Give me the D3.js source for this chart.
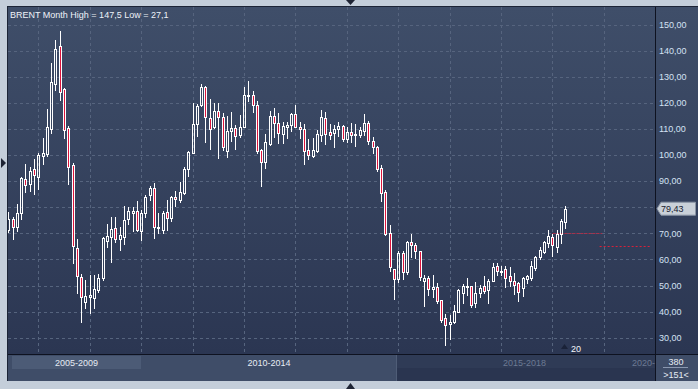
<!DOCTYPE html>
<html><head><meta charset="utf-8">
<script src="https://cdn.jsdelivr.net/npm/d3@7"></script>
<style>html,body{margin:0;padding:0;background:#c4ceda;}svg{display:block;font-family:"Liberation Sans",Arial,sans-serif;}</style>
</head><body>
<svg id="c" width="698" height="389"></svg>
<script>
// ---- data (monthly candles, Jul 2007 .. May 2018) ----
const months = ["2007-07","2007-08","2007-09","2007-10","2007-11","2007-12",
"2008-01","2008-02","2008-03","2008-04","2008-05","2008-06","2008-07","2008-08","2008-09","2008-10","2008-11","2008-12",
"2009-01","2009-02","2009-03","2009-04","2009-05","2009-06","2009-07","2009-08","2009-09","2009-10","2009-11","2009-12",
"2010-01","2010-02","2010-03","2010-04","2010-05","2010-06","2010-07","2010-08","2010-09","2010-10","2010-11","2010-12",
"2011-01","2011-02","2011-03","2011-04","2011-05","2011-06","2011-07","2011-08","2011-09","2011-10","2011-11","2011-12",
"2012-01","2012-02","2012-03","2012-04","2012-05","2012-06","2012-07","2012-08","2012-09","2012-10","2012-11","2012-12",
"2013-01","2013-02","2013-03","2013-04","2013-05","2013-06","2013-07","2013-08","2013-09","2013-10","2013-11","2013-12",
"2014-01","2014-02","2014-03","2014-04","2014-05","2014-06","2014-07","2014-08","2014-09","2014-10","2014-11","2014-12",
"2015-01","2015-02","2015-03","2015-04","2015-05","2015-06","2015-07","2015-08","2015-09","2015-10","2015-11","2015-12",
"2016-01","2016-02","2016-03","2016-04","2016-05","2016-06","2016-07","2016-08","2016-09","2016-10","2016-11","2016-12",
"2017-01","2017-02","2017-03","2017-04","2017-05","2017-06","2017-07","2017-08","2017-09","2017-10","2017-11","2017-12",
"2018-01","2018-02","2018-03","2018-04","2018-05"];
const open = [71.3,75.5,72.5,77.7,90.8,88.8,
94.5,91.5,99.8,100.4,110,127.1,141.8,125.2,110.2,96.3,64.4,53.1,
43.8,45.6,45.3,48.3,52.8,67.2,68.7,71.9,67.9,68.5,75.4,77.9,
78.4,71,77.9,84.6,87.2,72,71.3,78.1,76,83.8,82.8,85.4,
94.5,100.9,111.9,119.2,125.9,114,110.6,116.7,114.4,101.7,109.1,110.2,
107.5,110.8,122.5,122.9,119.2,101.9,97.4,104.2,115,112.1,108,110.8,
111.4,115.7,110.8,109.8,101.9,99.7,101.7,107.7,114,108.8,108.5,109.8,
111.1,106.1,108.8,107.7,107.8,109.3,112.1,105.5,103,94.9,85.7,70,
56.2,52.6,62.4,55,66.8,65.4,63.1,51.8,53,48.5,49.5,44.4,
37.4,35.1,36,39.8,47,49.4,49.8,43.4,47,49.8,48.3,51.7,
57.5,55.2,56.2,53.6,51.8,51.1,49.2,52.6,52.8,56.8,61.1,63,
66.2,68.5,64.9,69.7,74.4];
const high = [78,76.2,81.2,91.7,96.4,95.5,
98.5,100.9,106.5,117.6,135.4,144.1,147.5,125.8,111,97,67.8,54.5,
52.1,54.1,54.1,54.4,68.5,73.6,76.1,76.4,72.5,80.5,80.2,80.2,
82.4,78.9,84.6,88.1,89.4,77.9,78.7,82.9,84.4,86.3,89.5,95.5,
101.6,119.8,119.5,127.2,126.5,121.3,119.8,119.8,116.2,115,116.3,111.5,
115.3,125.9,128.5,124.6,120.6,102.2,108,116.9,118,116.2,112.8,112.8,
116.2,119.2,112.5,111.9,106.1,106.4,109.6,117.2,116.4,111.9,111.5,112.8,
111.5,110.6,112.1,111.8,110.8,115.7,113.1,106.8,103.4,96.2,86.6,73.2,
56.5,63.2,63.3,67,69.6,66.4,63.4,54,53.6,54,50.8,44.6,
39.1,38.7,42.5,48.7,50.6,52.8,50,51.3,50.2,53.6,52.4,58.5,
58.7,57.4,57.4,57,54.9,51.2,53.3,54,59.4,61.4,64.6,67,
71.3,69.7,71.3,75.5,80.5];
const low = [70.5,68,71,75.6,86,86.3,
85,86.9,96.5,99.5,108.5,124.9,121.1,106.5,88.8,58.7,47,36.1,
41.3,39.3,41.3,47.6,52,64.9,59.1,66.5,63.5,65.9,73.6,71,
71,67.4,76.1,82.9,68.1,70,70.2,71.3,74.8,80.5,82.1,85,
92,100.6,107.3,118.8,105.1,102.2,110.2,98.7,101.9,99.1,105.5,102.2,
107,110.6,120.8,116.6,100.9,88.1,95.2,103.8,107,104.7,104.7,106.4,
109.3,110.6,106.6,96.6,98.3,99.1,101.3,105.5,104.2,106,103,107.3,
105.5,105.1,105.1,103.6,106.8,107.7,104.2,100.9,94,82.5,69.3,55.7,
44.7,51.5,52.4,54.3,60.8,60.4,52.1,42,46.4,45.7,43.2,36.1,
27.2,29.5,35.7,39.7,43.2,46.4,41.6,41.6,45.7,47.2,43.2,51.6,
54,54,49.5,49.8,46.6,44.2,46,51,52.1,55.9,60,62.5,
64.9,61.4,63,66.4,72];
const close = [75.5,72.4,77.7,91,88.4,93.8,
92.2,100,100.7,110.6,127.9,140.5,124.1,109.6,95.4,65.3,53.6,45.5,
46.1,46.4,48.5,53,68.1,69,71.6,67.7,69.3,75.1,78.4,78.4,
71.3,77.7,83.8,87.2,72.5,72.5,77.9,76,83.8,83,85.8,94.6,
101,111.8,118.8,125.9,114.4,109.8,116.7,114.4,103,109.1,110.2,107.3,
110.8,123,123,119.2,101.7,97.4,104.9,115,112.1,108.3,111.1,111.4,
115.6,110.8,109.8,101.7,99.9,101.9,108,114.4,107.9,107.8,109.8,111.1,
106.1,108.8,107.7,108.2,109.6,112.1,105.5,103,94.8,85.6,69.7,57.2,
52.6,62.6,55,66.8,65.4,63.1,53.1,53,48.5,49.5,44.2,36.8,
34.7,36,40.1,48.3,49.8,50,42.4,47,49.2,48,51.8,57,
55.6,55.7,52.8,51.9,50.1,47.6,52.8,53.5,57.3,61.1,63.6,66.8,
68.8,65.5,69.7,74.7,79.43];
const yTicks = [30,40,50,60,70,80,90,100,110,120,130,140,150];
const periodLabels = ["2005-2009","2010-2014","2015-2018","2020-"];
const title = "BRENT Month High = 147,5 Low = 27,1";
const lastPrice = 79.43;
const refLevels = [{value:70, from:127, to:138.6}, {value:65, from:138, to:149.8}];
const counterTop = "380", counterBottom = ">151<", cursorLabel = "20";

// ---- layout ----
const svg = d3.select("#c");
const P = {l:8, r:655, t:7, b:354};
const x = d3.scaleLinear().domain([0, months.length-1]).range([8.3, 565.35]);
const y = d3.scaleLinear().domain([30,150]).range([337.7, 24.5]);

const defs = svg.append("defs");
const g1 = defs.append("linearGradient").attr("id","bg").attr("x1",0).attr("y1",0).attr("x2",0).attr("y2",1);
g1.append("stop").attr("offset","0%").attr("stop-color","#3f4e69");
g1.append("stop").attr("offset","100%").attr("stop-color","#2b3652");
defs.append("clipPath").attr("id","clip").append("rect").attr("x",P.l).attr("y",P.t).attr("width",P.r-P.l).attr("height",P.b-P.t);

// outer frame
svg.append("rect").attr("width",698).attr("height",389).attr("fill","#c4ceda");
svg.append("rect").attr("x",7).attr("y",6).attr("width",691).attr("height",375).attr("fill","#1c2436");
svg.append("rect").attr("x",P.l).attr("y",P.t).attr("width",698-P.l).attr("height",P.b-P.t).attr("fill","url(#bg)");

// frame triangles
svg.append("path").attr("d","M346,0 L355,0 L350.5,5 Z").attr("fill","#1e2434");
svg.append("path").attr("d","M346,389 L355,389 L350.5,383 Z").attr("fill","#1e2434");
svg.append("path").attr("d","M1,158 L6,163 L1,168 Z").attr("fill","#1e2434");

const plot = svg.append("g").attr("clip-path","url(#clip)");

// grid
plot.selectAll("line.hg").data(yTicks).join("line")
  .attr("x1",P.l).attr("x2",P.r).attr("y1",d=>Math.round(y(d))+0.5).attr("y2",d=>Math.round(y(d))+0.5)
  .attr("stroke","#56647e").attr("stroke-dasharray","3,3");
const vgrid = d3.range(7, 150, 12);
plot.selectAll("line.vg").data(vgrid).join("line")
  .attr("x1",d=>Math.round(x(d))+0.5).attr("x2",d=>Math.round(x(d))+0.5).attr("y1",P.t).attr("y2",P.b)
  .attr("stroke","#56647e").attr("stroke-dasharray","3,3");

// reference levels
const refColors = ["#a8304a","#d8203a"];
refLevels.forEach((r,k)=>{
  plot.append("line").attr("x1",x(r.from)).attr("x2",x(r.to))
    .attr("y1",Math.round(y(r.value))+0.5).attr("y2",Math.round(y(r.value))+0.5)
    .attr("stroke",refColors[k]).attr("stroke-dasharray",k===0?"3,1":"2,2");
});

// candles
const data = months.map((m,i)=>({i, o:open[i], h:high[i], l:low[i], c:close[i]}));
const cg = plot.selectAll("g.candle").data(data).join("g");
cg.each(function(d){
  const g = d3.select(this);
  const cx = Math.round(x(d.i));
  const top = Math.max(d.o,d.c), bot = Math.min(d.o,d.c);
  const yt = Math.round(y(top))+0.5, yb = Math.round(y(bot))+0.5;
  g.append("line").attr("x1",cx+0.5).attr("x2",cx+0.5).attr("y1",Math.round(y(d.h))).attr("y2",yt).attr("stroke","#ffffff");
  g.append("line").attr("x1",cx+0.5).attr("x2",cx+0.5).attr("y1",yb).attr("y2",Math.round(y(d.l))+1).attr("stroke","#ffffff");
  g.append("rect").attr("x",cx-0.5).attr("y",yt).attr("width",2).attr("height",Math.max(yb-yt,1))
    .attr("fill", d.c<d.o ? "#dc143c" : "none").attr("stroke","#ffffff").attr("stroke-width",1);
});

// title
svg.append("text").attr("x",10).attr("y",18.3).attr("fill","#eef2f8").attr("font-size",9).text(title);

// right axis (label under the last-price tag is hidden, as in the original)
svg.append("line").attr("x1",655.5).attr("x2",655.5).attr("y1",P.t).attr("y2",381).attr("stroke","#0e1220");
const ly = y(lastPrice);
const axisTicks = yTicks.filter(v => Math.abs(y(v) - ly) > 9);
const axis = d3.axisRight(y).tickValues(axisTicks).tickSize(0).tickPadding(0)
  .tickFormat(d=>d.toFixed(2).replace(".",","));
const ag = svg.append("g").attr("transform","translate(659,0)").call(axis);
ag.select(".domain").remove();
ag.selectAll("text").attr("fill","#d4e2f4").attr("font-size",9).attr("font-family","Liberation Sans, Arial, sans-serif");

// last price tag
svg.append("path").attr("d",`M657,${ly} L661,${ly-6.5} L695.5,${ly-6.5} L695.5,${ly+6.5} L661,${ly+6.5} Z`)
  .attr("fill","#c9d0d8").attr("stroke","#8a94a4");
svg.append("text").attr("x",661).attr("y",ly+3.3).attr("fill","#18202e").attr("font-size",9)
  .text(lastPrice.toFixed(2).replace(".",","));

// cursor label
svg.append("path").attr("d",`M561,349 L568,349 L564.5,344 Z`).attr("fill","#1a2238");
svg.append("text").attr("x",571).attr("y",352).attr("fill","#f4f6fa").attr("font-size",9).text(cursorLabel);

// bottom navigator
svg.append("line").attr("x1",P.l).attr("x2",698).attr("y1",354.5).attr("y2",354.5).attr("stroke","#0e1220");
svg.append("rect").attr("x",P.l).attr("y",355).attr("width",647).attr("height",26).attr("fill","#3f4d68");
svg.append("rect").attr("x",12).attr("y",356).attr("width",129).attr("height",13).attr("fill","#4c5b76");
svg.append("rect").attr("x",396).attr("y",355).attr("width",259).attr("height",13).attr("fill","#2f3b56");
svg.append("rect").attr("x",396).attr("y",368).attr("width",259).attr("height",13).attr("fill","#2a3550");
svg.append("line").attr("x1",396.5).attr("x2",396.5).attr("y1",355).attr("y2",381).attr("stroke","#4f5d77");
const labX = [76.5, 269, 524.5, 655];
svg.selectAll("text.per").data(periodLabels).join("text")
  .attr("x",(d,i)=>labX[i]).attr("y",366)
  .attr("text-anchor",(d,i)=>i===3?"end":"middle")
  .attr("fill",(d,i)=>i<2?"#e6ecf4":"#6c7a93").attr("font-size",9).text(d=>d);
// bottom-right counter
svg.append("rect").attr("x",656).attr("y",355).attr("width",42).attr("height",26).attr("fill","#3f4d68");
svg.append("text").attr("x",676).attr("y",365).attr("text-anchor","middle").attr("fill","#e6ecf4").attr("font-size",9).text(counterTop);
svg.append("line").attr("x1",663).attr("x2",688).attr("y1",367.5).attr("y2",367.5).attr("stroke","#8a98b0");
svg.append("text").attr("x",676).attr("y",377.5).attr("text-anchor","middle").attr("fill","#e6ecf4").attr("font-size",9).text(counterBottom);
</script>
</body></html>
